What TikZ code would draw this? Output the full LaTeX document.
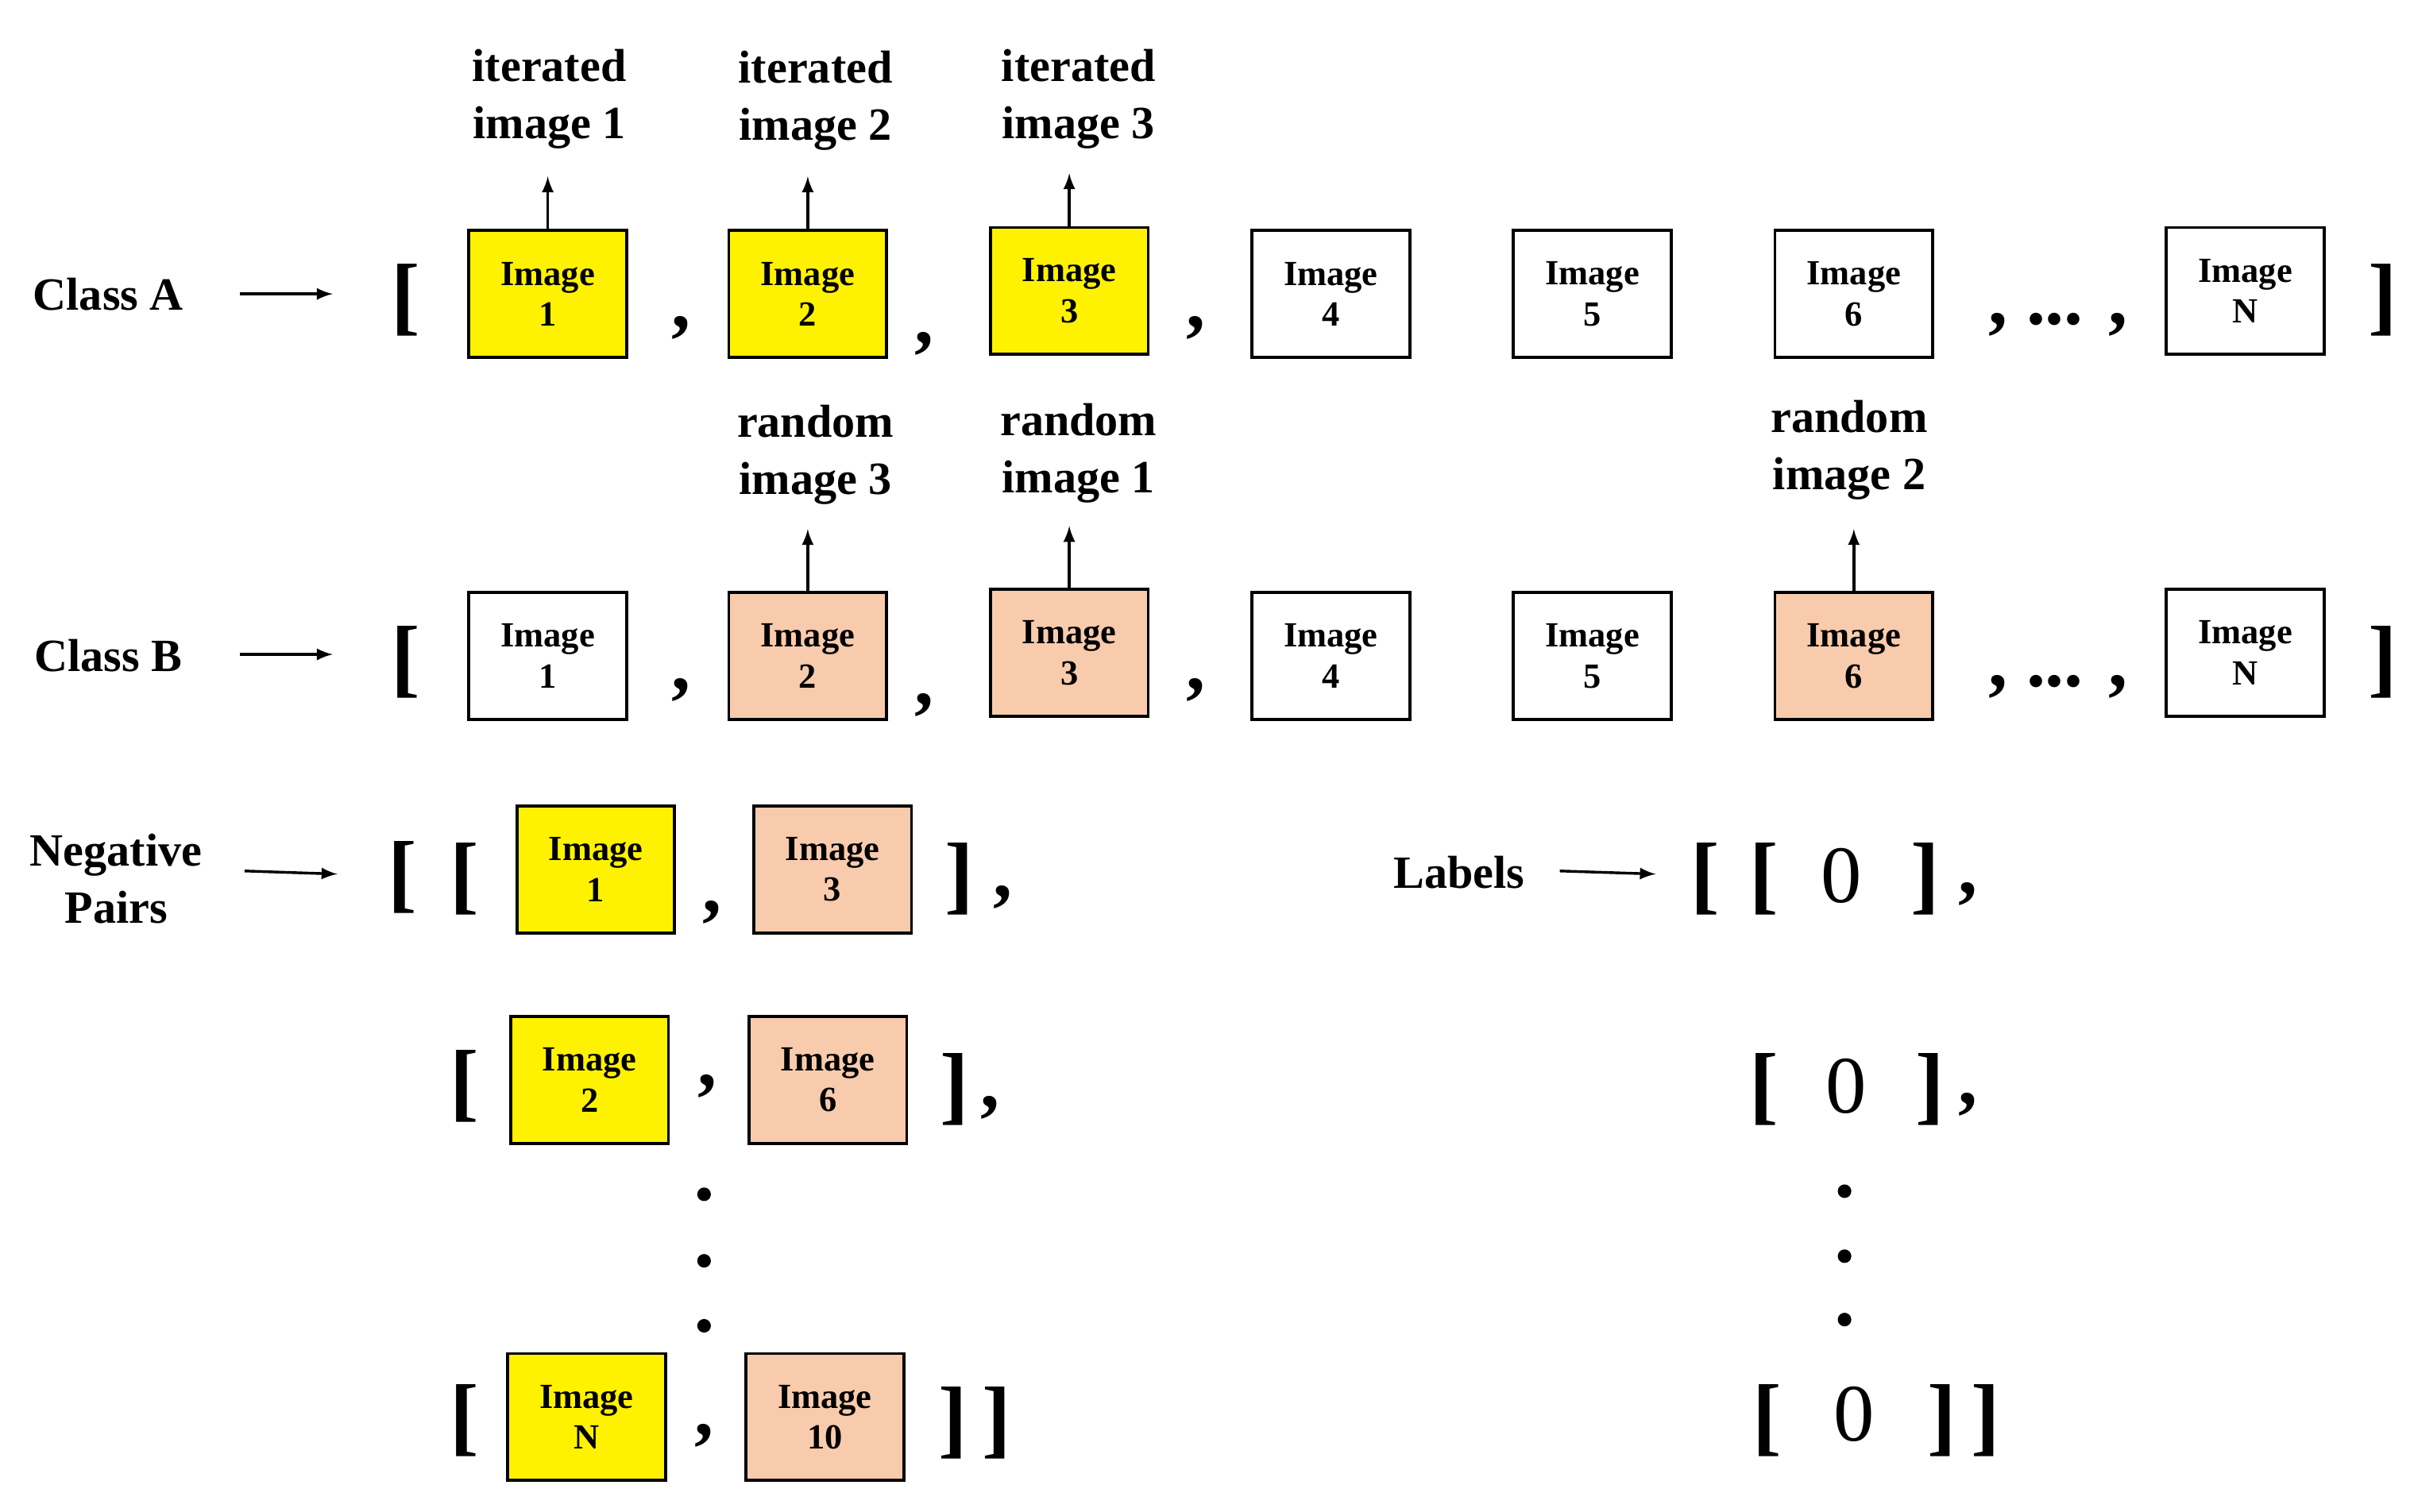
\documentclass[tikz,border=0pt]{standalone}
\usepackage{fontspec}
\setmainfont{Liberation Serif}
\begin{document}
\begin{tikzpicture}[x=0.02cm,y=-0.02cm,
 box/.style={draw,line width=1.1pt,minimum width=2.04cm,minimum height=1.64cm,inner sep=0pt,align=center,font=\fontsize{13}{15}\selectfont\bfseries},
 ya/.style={box,fill=yellow},
 pb/.style={box,fill={rgb,255:red,248;green,203;blue,173}},
 lab/.style={align=center,font=\fontsize{17}{21}\selectfont\bfseries},
 br/.style={font=\fontsize{32}{32}\selectfont\bfseries,inner sep=0pt},
 cma/.style={font=\fontsize{28}{28}\selectfont\bfseries,inner sep=0pt},
 dot/.style={circle,fill,inner sep=0pt,minimum size=5pt},
 zero/.style={font=\fontsize{30}{30}\selectfont,inner sep=0pt},
 ar/.style={-latex,line width=1pt}]
\useasboundingbox (0,0) rectangle (1560,977);
% Row A
\node[lab] (la) at (70,190) {Class A};
\coordinate (a0) at (155,190); \coordinate (a1) at (215,190);
\draw[ar] (a0) -- (a1);
\node[br] (ab1) at (262,194) {[};
\node[ya] (A1) at (354,190) {Image\\1};
\node[ya] (A2) at (522,190) {Image\\2};
\node[ya] (A3) at (691,188) {Image\\3};
\node[box] (A4) at (860,190) {Image\\4};
\node[box] (A5) at (1029,190) {Image\\5};
\node[box] (A6) at (1198,190) {Image\\6};
\node[box] (AN) at (1451,188) {Image\\N};
\node[br] (ab2) at (1540,194) {]};
\node[cma] at (440,212) {,};
\node[cma] at (597,222) {,};
\node[cma] at (773,212) {,};
\node[cma] at (1330,210) {, ... ,};
\node[lab] (it1) at (355,64) {iterated\\image 1};
\node[lab] (it2) at (527,65) {iterated\\image 2};
\node[lab] (it3) at (697,64) {iterated\\image 3};
\draw[ar] (A1.north) -- ++(0,-34);
\draw[ar] (A2.north) -- ++(0,-34);
\draw[ar] (A3.north) -- ++(0,-34);
% Row B
\node[lab] (lb) at (70,424) {Class B};
\coordinate (b0) at (155,423); \coordinate (b1) at (215,423);
\draw[ar] (b0) -- (b1);
\node[br] at (262,428) {[};
\node[box] (B1) at (354,424) {Image\\1};
\node[pb] (B2) at (522,424) {Image\\2};
\node[pb] (B3) at (691,422) {Image\\3};
\node[box] (B4) at (860,424) {Image\\4};
\node[box] (B5) at (1029,424) {Image\\5};
\node[pb] (B6) at (1198,424) {Image\\6};
\node[box] (BN) at (1451,422) {Image\\N};
\node[br] at (1540,428) {]};
\node[cma] at (440,446) {,};
\node[cma] at (597,456) {,};
\node[cma] at (773,446) {,};
\node[cma] at (1330,444) {, ... ,};
\node[lab] at (527,294) {random\\image 3};
\node[lab] at (697,293) {random\\image 1};
\node[lab] at (1195,291) {random\\image 2};
\draw[ar] (B2.north) -- ++(0,-40);
\draw[ar] (B3.north) -- ++(0,-40);
\draw[ar] (B6.north) -- ++(0,-40);
% Negative pairs
\node[lab] (ln) at (75,568) {Negative\\Pairs};
\coordinate (n0) at (158,563); \coordinate (n1) at (218,565);
\draw[ar] (n0) -- (n1);
\node[br] at (260,567) {[};
\node[br] at (300,568) {[};
\node[ya] (P1) at (385,562) {Image\\1};
\node[cma] at (460,590) {,};
\node[pb] (Q1) at (538,562) {Image\\3};
\node[br] at (620,568) {]};
\node[cma] at (648,580) {,};
\node[br] at (300,702) {[};
\node[ya] (P2) at (381,698) {Image\\2};
\node[cma] at (457,702) {,};
\node[pb] (Q2) at (535,698) {Image\\6};
\node[br] at (617,704) {]};
\node[cma] at (640,716) {,};
\node[dot] at (455,772) {};
\node[dot] at (455,815) {};
\node[dot] at (455,857) {};
\node[br] at (300,918) {[};
\node[ya] (P3) at (379,916) {Image\\N};
\node[cma] at (455,928) {,};
\node[pb] (Q3) at (533,916) {Image\\10};
\node[br] at (630,920) {]\,]};
% Labels
\node[lab] (ll) at (943,564) {Labels};
\coordinate (l0) at (1008,563); \coordinate (l1) at (1070,565);
\draw[ar] (l0) -- (l1);
\node[br] at (1102,568) {[};
\node[br] at (1140,568) {[};
\node[zero] at (1190,566) {0};
\node[br] at (1244,568) {]};
\node[cma] at (1272,578) {,};
\node[br] at (1140,704) {[};
\node[zero] at (1193,702) {0};
\node[br] at (1247,704) {]};
\node[cma] at (1272,714) {,};
\node[dot] at (1192,770) {};
\node[dot] at (1192,812) {};
\node[dot] at (1192,853) {};
\node[br] at (1142,918) {[};
\node[zero] at (1198,914) {0};
\node[br] at (1269,918) {]\,]};
\end{tikzpicture}
\end{document}
